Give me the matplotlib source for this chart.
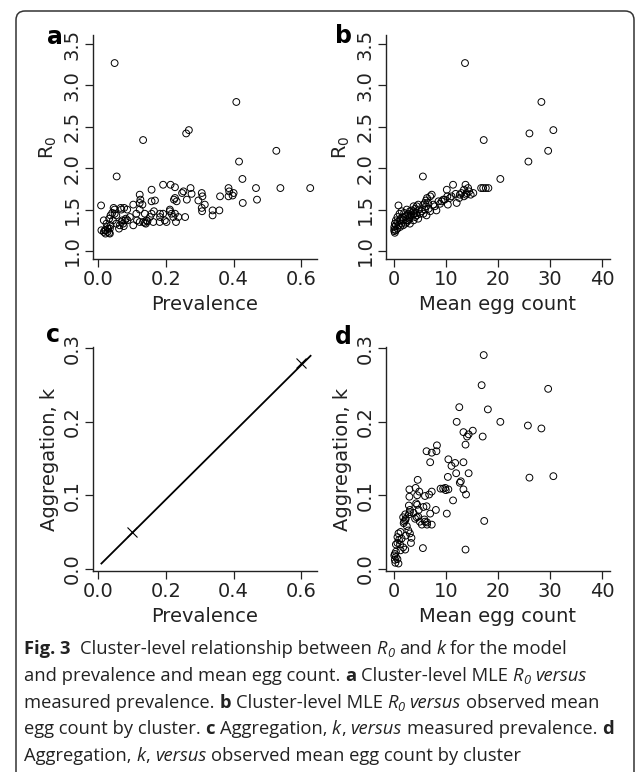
import matplotlib
matplotlib.use("Agg")
import matplotlib.pyplot as plt
from matplotlib.patches import FancyBboxPatch
from matplotlib.transforms import IdentityTransform

# panel a: cluster prevalence vs R0
prev_a = [0.049, 0.408, 0.260, 0.268, 0.133, 0.526, 0.416, 0.055, 0.426, 0.192,
          0.214, 0.227, 0.273, 0.385, 0.466, 0.538, 0.626, 0.158, 0.248, 0.252,
          0.276, 0.306, 0.308, 0.387, 0.400, 0.397, 0.385, 0.469, 0.427, 0.360,
          0.123, 0.125, 0.168, 0.227, 0.232, 0.224, 0.262, 0.296, 0.315, 0.306,
          0.307, 0.338, 0.338, 0.358, 0.009, 0.077, 0.067, 0.049, 0.049, 0.042,
          0.046, 0.086, 0.104, 0.113, 0.123, 0.131, 0.138, 0.115, 0.123, 0.104,
          0.133, 0.138, 0.143, 0.141, 0.146, 0.153, 0.158, 0.165, 0.183, 0.183,
          0.182, 0.202, 0.217, 0.212, 0.222, 0.227, 0.230, 0.237, 0.257, 0.017,
          0.033, 0.037, 0.025, 0.027, 0.030, 0.035, 0.037, 0.010, 0.017, 0.022,
          0.023, 0.028, 0.020, 0.033, 0.035, 0.054, 0.062, 0.064, 0.069, 0.072,
          0.074, 0.076, 0.080, 0.082, 0.094, 0.087, 0.069, 0.192, 0.197, 0.163,
          0.212, 0.123, 0.158, 0.044, 0.054]
r0_a = [3.27, 2.80, 2.42, 2.46, 2.34, 2.21, 2.08, 1.90, 1.87, 1.80,
        1.80, 1.77, 1.76, 1.76, 1.76, 1.76, 1.76, 1.74, 1.70, 1.72,
        1.69, 1.70, 1.66, 1.72, 1.70, 1.67, 1.66, 1.62, 1.58, 1.66,
        1.68, 1.62, 1.61, 1.64, 1.60, 1.62, 1.62, 1.61, 1.56, 1.52,
        1.48, 1.49, 1.43, 1.49, 1.55, 1.52, 1.52, 1.50, 1.45, 1.46,
        1.52, 1.50, 1.56, 1.45, 1.50, 1.56, 1.45, 1.37, 1.35, 1.31,
        1.35, 1.34, 1.37, 1.33, 1.36, 1.41, 1.45, 1.48, 1.45, 1.41,
        1.35, 1.35, 1.45, 1.50, 1.41, 1.45, 1.35, 1.41, 1.41, 1.37,
        1.39, 1.43, 1.33, 1.29, 1.27, 1.27, 1.31, 1.25, 1.23, 1.21,
        1.25, 1.23, 1.25, 1.22, 1.21, 1.33, 1.27, 1.31, 1.35, 1.37,
        1.33, 1.30, 1.37, 1.39, 1.41, 1.37, 1.50, 1.45, 1.37, 1.35,
        1.48, 1.58, 1.60, 1.37, 1.43]

# panel b: mean egg count vs R0
egg_b = [13.6, 28.3, 26.0, 30.6, 17.2, 29.6, 25.8, 5.5, 20.4, 11.3,
         13.7, 16.7, 17.1, 17.6, 18.1, 14.2, 14.4, 13.9, 13.4, 12.9,
         15.2, 14.7, 10.1, 11.8, 10.7, 10.2, 9.7, 9.1, 8.8, 12.0,
         10.3, 12.5, 13.4, 13.8, 7.2, 6.9, 6.3, 6.1, 5.9, 6.5,
         7.8, 8.1, 6.6, 6.1, 5.6, 6.2, 4.6, 4.3, 4.0, 3.7,
         3.3, 3.0, 2.7, 2.4, 2.1, 0.8, 1.4, 1.0, 0.6, 0.3,
         0.1, 0.0, 0.0, 0.0, 0.1, 2.4, 3.0, 3.7, 4.3, 4.9,
         5.6, 2.1, 1.7, 1.4, 1.1, 1.7, 2.4, 3.0, 3.7, 0.6,
         0.8, 0.3, 1.1, 1.6, 2.7, 3.3, 4.2, 4.8, 5.3, 6.9,
         7.5, 8.5, 9.4, 11.0, 12.6, 1.9, 2.9, 0.6, 1.2, 0.3,
         4.0, 4.6, 5.9, 3.8, 2.5]
r0_b = [3.27, 2.80, 2.42, 2.46, 2.34, 2.21, 2.08, 1.90, 1.87, 1.80,
        1.80, 1.76, 1.76, 1.76, 1.76, 1.76, 1.72, 1.70, 1.74, 1.70,
        1.70, 1.68, 1.74, 1.69, 1.64, 1.66, 1.62, 1.60, 1.57, 1.58,
        1.56, 1.64, 1.66, 1.68, 1.68, 1.66, 1.64, 1.61, 1.58, 1.58,
        1.54, 1.49, 1.51, 1.54, 1.56, 1.43, 1.56, 1.54, 1.51, 1.48,
        1.43, 1.41, 1.37, 1.35, 1.33, 1.55, 1.48, 1.45, 1.41, 1.37,
        1.33, 1.29, 1.26, 1.24, 1.22, 1.50, 1.48, 1.54, 1.43, 1.45,
        1.45, 1.41, 1.37, 1.33, 1.29, 1.31, 1.37, 1.33, 1.37, 1.27,
        1.31, 1.25, 1.37, 1.41, 1.45, 1.49, 1.46, 1.50, 1.48, 1.48,
        1.56, 1.60, 1.62, 1.66, 1.68, 1.46, 1.39, 1.35, 1.39, 1.31,
        1.41, 1.39, 1.50, 1.45, 1.43]

# panel c: fitted k against prevalence, with two marked points
prev_c_line = [0.01, 0.627]
k_c_line = [0.007, 0.290]
prev_c_pts = [0.1, 0.6]
k_c_pts = [0.05, 0.28]

# panel d: mean egg count vs k
egg_d = [17.2, 16.8, 29.6, 12.5, 18.0, 12.0, 20.4, 25.7, 28.3, 13.3,
         14.0, 14.3, 15.1, 17.0, 13.7, 6.2, 7.2, 8.1, 8.2, 6.9,
         10.4, 11.0, 11.7, 13.3, 11.9, 10.3, 14.3, 26.0, 30.6, 12.8,
         12.6, 11.3, 13.3, 13.8, 8.9, 9.4, 9.8, 9.9, 10.4, 7.2,
         6.7, 5.9, 4.8, 4.4, 4.1, 2.9, 2.9, 2.8, 2.8, 4.2,
         4.4, 4.7, 3.0, 3.7, 4.5, 6.2, 8.0, 6.9, 10.1, 7.2,
         6.3, 5.8, 5.9, 6.3, 17.3, 5.5, 13.7, 1.7, 2.1, 2.2,
         2.1, 1.8, 2.4, 2.7, 3.0, 2.2, 1.2, 0.8, 0.6, 0.3,
         0.6, 0.9, 0.1, 0.3, 0.6, 0.8, 0.1, 0.2, 1.1, 1.4,
         1.2, 1.7, 2.1, 3.2, 3.3, 4.3, 4.9, 5.3, 5.6, 3.0,
         4.0, 4.6, 0.0, 0.3, 1.9]
k_d = [0.291, 0.250, 0.245, 0.220, 0.217, 0.200, 0.200, 0.195, 0.191, 0.186,
       0.180, 0.183, 0.188, 0.180, 0.169, 0.160, 0.158, 0.160, 0.168, 0.145,
       0.149, 0.140, 0.144, 0.145, 0.130, 0.125, 0.130, 0.124, 0.126, 0.119,
       0.117, 0.093, 0.108, 0.101, 0.109, 0.109, 0.110, 0.107, 0.108, 0.105,
       0.101, 0.099, 0.105, 0.100, 0.110, 0.108, 0.098, 0.086, 0.074, 0.089,
       0.087, 0.080, 0.080, 0.076, 0.121, 0.085, 0.080, 0.075, 0.075, 0.060,
       0.060, 0.067, 0.064, 0.063, 0.065, 0.028, 0.026, 0.070, 0.066, 0.068,
       0.074, 0.062, 0.058, 0.052, 0.048, 0.045, 0.050, 0.048, 0.043, 0.033,
       0.035, 0.039, 0.020, 0.016, 0.013, 0.007, 0.012, 0.008, 0.033, 0.041,
       0.025, 0.029, 0.026, 0.035, 0.042, 0.070, 0.064, 0.060, 0.084, 0.077,
       0.068, 0.071, 0.018, 0.023, 0.064]

prev_ticks = [0.0, 0.2, 0.4, 0.6]
egg_ticks = [0, 10, 20, 30, 40]
r0_ticks = [1.0, 1.5, 2.0, 2.5, 3.0, 3.5]
k_ticks = [0.0, 0.1, 0.2, 0.3]

W, H = 636, 772
fig = plt.figure(figsize=(W / 100, H / 100), dpi=100)
ink = "#222222"


def add_ax(x0, y0, x1, y1):
    return fig.add_axes([x0 / W, 1 - y1 / H, (x1 - x0) / W, (y1 - y0) / H])


def style(ax, xlim, ylim, xticks, xfmt, yticks, yfmt, xlabel, ylabel):
    ax.set_xlim(xlim)
    ax.set_ylim(ylim)
    for s in ["top", "right"]:
        ax.spines[s].set_visible(False)
    for s in ["left", "bottom"]:
        ax.spines[s].set_color(ink)
        ax.spines[s].set_linewidth(1.0)
    ax.set_xticks(xticks)
    ax.set_xticklabels([xfmt.format(t) for t in xticks])
    ax.set_yticks(yticks)
    ax.set_yticklabels([yfmt.format(t) for t in yticks], rotation=90, va="center")
    ax.tick_params(direction="out", length=6, width=0.9, color=ink,
                   labelsize=14, labelcolor=ink, pad=2)
    ax.tick_params(axis="x", pad=2)
    ax.set_xlabel(xlabel, fontsize=14, color=ink)
    ax.set_ylabel(ylabel, fontsize=14, color=ink)
    ax.xaxis.set_label_coords(0.5, -0.16)
    ax.yaxis.set_label_coords(-0.15, 0.5)


circ = dict(marker="o", s=24, facecolors="none", edgecolors="black", linewidths=0.7)

ax_a = add_ax(93, 35, 317, 259)
ax_a.scatter(prev_a, r0_a, **circ)
style(ax_a, (-0.0148, 0.646), (0.903, 3.609), prev_ticks, "{:.1f}",
      r0_ticks, "{:.1f}", "Prevalence", "R$_0$")

ax_b = add_ax(386, 35, 610, 259)
ax_b.scatter(egg_b, r0_b, **circ)
style(ax_b, (-1.6, 41.5), (0.903, 3.609), egg_ticks, "{:d}",
      r0_ticks, "{:.1f}", "Mean egg count", "R$_0$")

ax_c = add_ax(93, 347, 317, 571)
ax_c.plot(prev_c_line, k_c_line, color="black", lw=1.3)
ax_c.plot(prev_c_pts, k_c_pts, ls="none", marker="x", ms=7, mew=0.8, color="black")
style(ax_c, (-0.0148, 0.646), (-0.0032, 0.302), prev_ticks, "{:.1f}",
      k_ticks, "{:.1f}", "Prevalence", "Aggregation, k")

ax_d = add_ax(386, 347, 610, 571)
ax_d.scatter(egg_d, k_d, **circ)
style(ax_d, (-1.6, 41.5), (-0.0032, 0.302), egg_ticks, "{:d}",
      k_ticks, "{:.1f}", "Mean egg count", "Aggregation, k")

for letter, (lx, ly) in zip("abcd", [(55, 37), (343, 36), (53, 335), (343, 337)]):
    fig.text(lx / W, 1 - ly / H, letter, fontsize=17, fontweight="bold",
             ha="center", va="center", color="black")

# outer frame (rounded top, open at the bottom)
frame = FancyBboxPatch((16, -40), 618, H - 11 + 40,
                       boxstyle="round,pad=0,rounding_size=9",
                       transform=IdentityTransform(), fill=False,
                       ec="#333333", lw=1.1)
fig.add_artist(frame)

# caption, drawn run by run
cap_font = "Open Sans"
cap_size = 13.2
renderer = fig.canvas.get_renderer()


def run_props(kind):
    p = dict(fontfamily=cap_font, fontsize=cap_size, color="#222222")
    if kind == "b":
        p["fontweight"] = "bold"
    if kind in ("i", "sub"):
        p["fontstyle"] = "italic"
    if kind == "sub":
        p["fontsize"] = cap_size * 0.7
    return p


def text_width(s, kind):
    t = fig.text(0, 0, s, **run_props(kind))
    w = t.get_window_extent(renderer).width
    t.remove()
    return w


space_w = {k: text_width("x x", k) - text_width("xx", k) for k in ("n", "b", "i")}

caption = [
    [("b", "Fig. 3"), ("n", "  Cluster-level relationship between "), ("i", "R"), ("sub", "0"),
     ("n", " and "), ("i", "k"), ("n", " for the model")],
    [("n", "and prevalence and mean egg count. "), ("b", "a"), ("n", " Cluster-level MLE "),
     ("i", "R"), ("sub", "0"), ("i", " versus")],
    [("n", "measured prevalence. "), ("b", "b"), ("n", " Cluster-level MLE "), ("i", "R"),
     ("sub", "0"), ("i", " versus"), ("n", " observed mean")],
    [("n", "egg count by cluster. "), ("b", "c"), ("n", " Aggregation, "), ("i", "k"),
     ("n", ", "), ("i", "versus"), ("n", " measured prevalence. "), ("b", "d")],
    [("n", "Aggregation, "), ("i", "k"), ("n", ", "), ("i", "versus"),
     ("n", " observed mean egg count by cluster")],
]

for li, line in enumerate(caption):
    x = 24.0
    base = 654 + 26.8 * li
    for kind, s in line:
        sk = "i" if kind == "sub" else kind
        lead = len(s) - len(s.lstrip(" "))
        trail = len(s) - len(s.rstrip(" "))
        core = s.strip(" ")
        x += lead * space_w[sk]
        y = base + (3 if kind == "sub" else 0)
        t = fig.text(x / W, 1 - y / H, core, va="baseline", ha="left", **run_props(kind))
        x += t.get_window_extent(renderer).width
        x += trail * space_w[sk]

fig.savefig("out.png", dpi=100)
